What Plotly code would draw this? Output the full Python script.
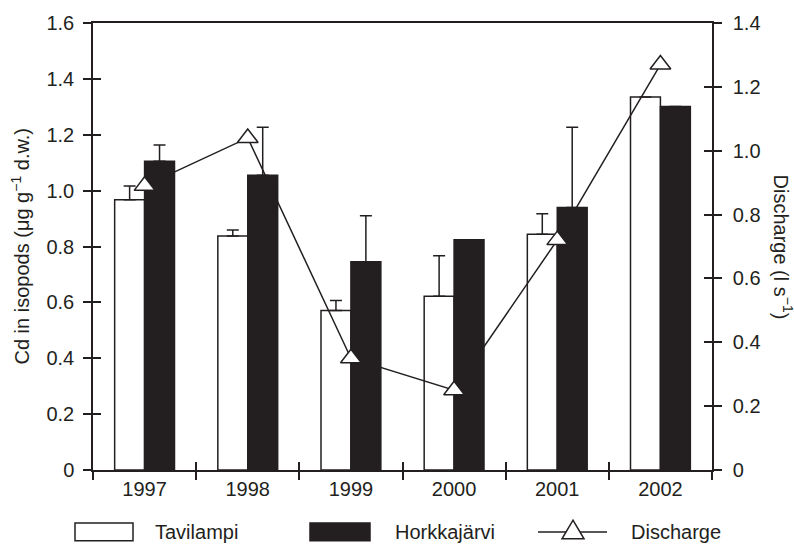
import plotly.graph_objects as go

# Data
years = ["1997", "1998", "1999", "2000", "2001", "2002"]
tavilampi = [0.967, 0.838, 0.571, 0.622, 0.844, 1.335]
tavilampi_err = [0.050, 0.021, 0.036, 0.145, 0.073, None]
horkkajarvi = [1.105, 1.055, 0.745, 0.824, 0.940, 1.301]
horkkajarvi_err = [0.058, 0.172, 0.165, None, 0.287, None]
discharge = [0.89, 1.04, 0.35, 0.25, 0.72, 1.27]

left_ticks = [0, 0.2, 0.4, 0.6, 0.8, 1.0, 1.2, 1.4, 1.6]
left_labels = ["0", "0.2", "0.4", "0.6", "0.8", "1.0", "1.2", "1.4", "1.6"]
right_ticks = [0, 0.2, 0.4, 0.6, 0.8, 1.0, 1.2, 1.4]
right_labels = ["0", "0.2", "0.4", "0.6", "0.8", "1.0", "1.2", "1.4"]

INK = "#231f20"
FONT = "Liberation Sans, Arial, sans-serif"
FS = 20
W, H = 794, 551
ML, MR, MT, MB = 93, 82, 15, 81
PW, PH = W - ML - MR, H - MT - MB


def px(x):
    return (x - ML) / PW


def py(y):
    return (H - MB - y) / PH


fig = go.Figure()

fig.add_trace(go.Bar(
    x=years, y=tavilampi, name="Tavilampi",
    marker=dict(color="white", line=dict(color=INK, width=1.5)),
    error_y=dict(type="data", array=tavilampi_err, symmetric=False,
                 arrayminus=[0] * len(years), color=INK, thickness=1.5, width=6),
    showlegend=False,
))
fig.add_trace(go.Bar(
    x=years, y=horkkajarvi, name="Horkkajärvi",
    marker=dict(color=INK, line=dict(color=INK, width=1.5)),
    error_y=dict(type="data", array=horkkajarvi_err, symmetric=False,
                 arrayminus=[0] * len(years), color=INK, thickness=1.5, width=6),
    showlegend=False,
))
fig.add_trace(go.Scatter(
    x=years, y=discharge, name="Discharge", yaxis="y2",
    mode="lines+markers",
    line=dict(color=INK, width=1.5),
    marker=dict(symbol="triangle-up", size=18, color="white",
                line=dict(color=INK, width=1.5)),
    showlegend=False,
))

# Empty helper traces so the overlay axes carrying the inward tick halves get drawn
fig.add_trace(go.Scatter(x=[None], y=[None], xaxis="x3", yaxis="y3", mode="markers",
                         showlegend=False, hoverinfo="skip"))
fig.add_trace(go.Scatter(x=[None], y=[None], xaxis="x", yaxis="y4", mode="markers",
                         showlegend=False, hoverinfo="skip"))

n = len(years)
boundaries = [i - 0.5 for i in range(n + 1)]

fig.update_layout(
    width=W, height=H,
    margin=dict(l=ML, r=MR, t=MT, b=MB, pad=0),
    paper_bgcolor="white", plot_bgcolor="white",
    font=dict(family=FONT, size=FS, color=INK),
    barmode="group", bargap=0.42, bargroupgap=0,
    showlegend=False,
    xaxis=dict(
        type="category", range=[-0.5, n - 0.5],
        tickson="boundaries", ticks="outside", ticklen=8, tickwidth=1.5, tickcolor=INK,
        showline=True, linecolor=INK, linewidth=1.5, mirror=True,
        showgrid=False, zeroline=False,
        tickfont=dict(family=FONT, size=FS, color=INK),
    ),
    xaxis3=dict(
        overlaying="x", anchor="y", side="bottom", type="linear", range=[-0.5, n - 0.5],
        tickmode="array", tickvals=boundaries, ticks="inside", ticklen=8,
        tickwidth=1.5, tickcolor=INK, showticklabels=False,
        showline=False, showgrid=False, zeroline=False,
    ),
    yaxis=dict(
        range=[0, 1.6], tickmode="array", tickvals=left_ticks, ticktext=left_labels,
        ticks="outside", ticklen=8, tickwidth=1.5, tickcolor=INK,
        showline=True, linecolor=INK, linewidth=1.5,
        showgrid=False, zeroline=False, ticklabelstandoff=5,
        tickfont=dict(family=FONT, size=FS, color=INK),
    ),
    yaxis3=dict(
        overlaying="y", anchor="x", side="left", range=[0, 1.6],
        tickmode="array", tickvals=left_ticks, ticks="inside", ticklen=8,
        tickwidth=1.5, tickcolor=INK, showticklabels=False,
        showline=False, showgrid=False, zeroline=False,
    ),
    yaxis2=dict(
        overlaying="y", anchor="x", side="right", range=[0, 1.4],
        tickmode="array", tickvals=right_ticks, ticktext=right_labels,
        ticks="outside", ticklen=8, tickwidth=1.5, tickcolor=INK,
        showline=True, linecolor=INK, linewidth=1.5,
        showgrid=False, zeroline=False, ticklabelstandoff=7,
        tickfont=dict(family=FONT, size=FS, color=INK),
    ),
    yaxis4=dict(
        overlaying="y", anchor="x", side="right", range=[0, 1.4],
        tickmode="array", tickvals=right_ticks, ticks="inside", ticklen=8,
        tickwidth=1.5, tickcolor=INK, showticklabels=False,
        showline=False, showgrid=False, zeroline=False,
    ),
)

# Axis titles
fig.add_annotation(
    text="Cd in isopods (μg g<sup>−1</sup> d.w.)", textangle=-90,
    xref="paper", yref="paper", x=px(20), y=0.5,
    xanchor="center", yanchor="middle", showarrow=False,
    font=dict(family=FONT, size=FS, color=INK),
)
fig.add_annotation(
    text="Discharge (l s<sup>−1</sup>)", textangle=90,
    xref="paper", yref="paper", x=px(783), y=0.5,
    xanchor="center", yanchor="middle", showarrow=False,
    font=dict(family=FONT, size=FS, color=INK),
)

# Legend row below the axis
LY = 533
fig.add_shape(type="rect", xref="paper", yref="paper",
              x0=px(75), x1=px(133), y0=py(LY - 9), y1=py(LY + 9),
              fillcolor="white", line=dict(color=INK, width=1.5))
fig.add_shape(type="rect", xref="paper", yref="paper",
              x0=px(310), x1=px(370), y0=py(LY - 9), y1=py(LY + 9),
              fillcolor=INK, line=dict(color=INK, width=1.5))
fig.add_shape(type="line", xref="paper", yref="paper",
              x0=px(538), x1=px(607), y0=py(LY), y1=py(LY),
              line=dict(color=INK, width=1.5))
tri = "M {:.5f} {:.5f} L {:.5f} {:.5f} L {:.5f} {:.5f} Z".format(
    px(562), py(LY + 7), px(584), py(LY + 7), px(573), py(LY - 12))
fig.add_shape(type="path", xref="paper", yref="paper", path=tri,
              fillcolor="white", line=dict(color=INK, width=1.5))

for label, left in [("Tavilampi", 153), ("Horkkajärvi", 393), ("Discharge", 629)]:
    fig.add_annotation(
        text=label, xref="paper", yref="paper", x=px(left), y=py(LY),
        xanchor="left", yanchor="middle", showarrow=False,
        font=dict(family=FONT, size=FS, color=INK),
    )

fig.write_html("out.html")
